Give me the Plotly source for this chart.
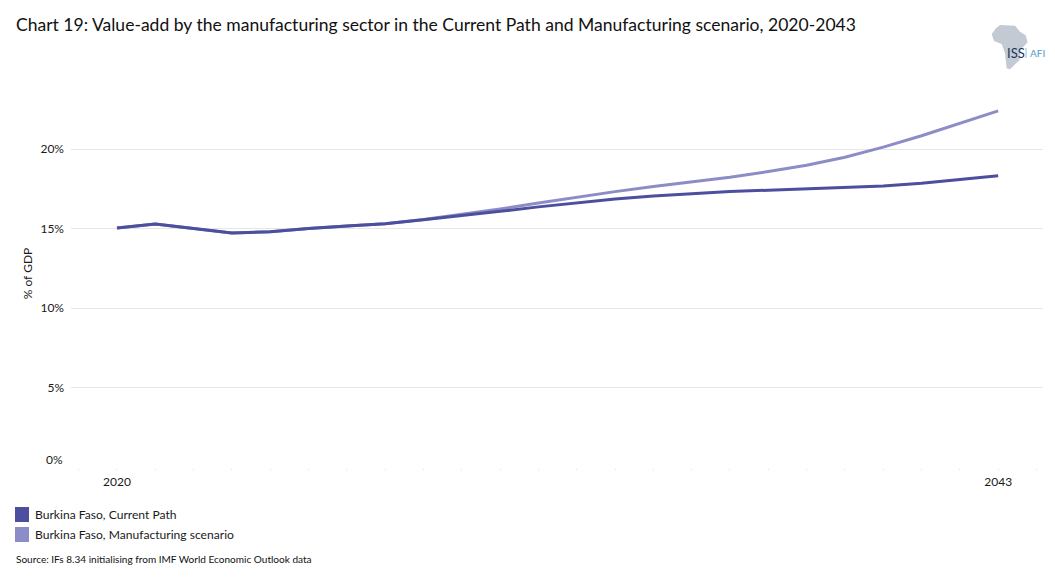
import plotly.graph_objects as go

years = list(range(2020, 2044))
current_path = [15.03, 15.28, 15.0, 14.72, 14.8, 15.0, 15.15, 15.3, 15.55, 15.8, 16.08, 16.36, 16.62, 16.86, 17.05,
                17.2, 17.32, 17.41, 17.49, 17.57, 17.67, 17.85, 18.07, 18.32]
manufacturing = [15.03, 15.28, 15.0, 14.72, 14.8, 15.0, 15.15, 15.3, 15.56, 15.88, 16.22, 16.6, 16.97, 17.32, 17.64,
                 17.93, 18.23, 18.58, 18.98, 19.48, 20.12, 20.83, 21.6, 22.4]
series_names = ["Burkina Faso, Current Path", "Burkina Faso, Manufacturing scenario"]
series_colors = ["#4C4E9E", "#8C8DC6"]
y_ticks = [5, 10, 15, 20]
y_labels = ["5%", "10%", "15%", "20%"]
zero_label = "0%"
x_ticks = [2020, 2043]
x_labels = ["2020", "2043"]
title = "Chart 19: Value-add by the manufacturing sector in the Current Path and Manufacturing scenario, 2020-2043"
source = "Source: IFs 8.34 initialising from IMF World Economic Outlook data"
FONT = "Lato"
W, H = 1055, 584
L, R, T, B = 71, 12, 80, 117

def px(x):
    return (x - L) / (W - L - R)

def py(y):
    return (H - B - y) / (H - T - B)

fig = go.Figure()
fig.add_trace(go.Scatter(x=years, y=manufacturing, mode="lines", name=series_names[1],
                         line=dict(color=series_colors[1], width=3)))
fig.add_trace(go.Scatter(x=years, y=current_path, mode="lines", name=series_names[0],
                         line=dict(color=series_colors[0], width=3)))

shapes = []
annotations = []
for text, col, y0 in zip(series_names, series_colors, [507, 527]):
    shapes.append(dict(type="rect", xref="paper", yref="paper", x0=px(15), x1=px(29), y0=py(y0), y1=py(y0 + 15),
                       fillcolor=col, line_width=0))
    annotations.append(dict(text=text, xref="paper", yref="paper", x=px(33), y=py(y0 + 7.5), xanchor="left",
                            yanchor="middle", showarrow=False, font=dict(size=12.1, color="#1a1a1a")))

annotations.append(dict(text=title, xref="paper", yref="paper", x=px(14), y=py(25), xanchor="left",
                        yanchor="middle", showarrow=False, font=dict(size=17.55, color="#111111")))
annotations.append(dict(text=source, xref="paper", yref="paper", x=px(14), y=py(559), xanchor="left",
                        yanchor="middle", showarrow=False, font=dict(size=10.05, color="#111111")))
annotations.append(dict(text=zero_label, xref="paper", yref="paper", x=px(65), y=py(459), xanchor="right",
                        yanchor="middle", showarrow=False, font=dict(size=12, color="#1a1a1a")))

# logo
africa = [(120, 45), (165, 47), (180, 65), (197, 76), (203, 97), (181, 120), (179, 150), (150, 178), (140, 175),
          (135, 130), (125, 102), (102, 93), (95, 72), (108, 55)]
pts = [(960 + a / 3, 10 + b / 3) for a, b in africa]
path = "M " + " L ".join(f"{px(a):.5f} {py(b):.5f}" for a, b in pts) + " Z"
shapes.append(dict(type="path", xref="paper", yref="paper", path=path, fillcolor="#C3CAD3", line_width=0))
annotations.append(dict(text="ISS", xref="paper", yref="paper", x=px(1004.5), y=py(53), xanchor="left",
                        yanchor="middle", showarrow=False, font=dict(size=13, color="#17365D")))
annotations.append(dict(text="AFI", xref="paper", yref="paper", x=px(1027.5), y=py(53), xanchor="left",
                        yanchor="middle", showarrow=False, font=dict(size=10, color="#4E9CC9")))
shapes.append(dict(type="line", xref="paper", yref="paper", x0=px(1026), x1=px(1026), y0=py(48), y1=py(58),
                   line=dict(color="#8FC0DC", width=1)))

fig.update_layout(
    width=W, height=H, autosize=False,
    margin=dict(l=L, r=R, t=T, b=B, pad=0),
    paper_bgcolor="white", plot_bgcolor="white",
    showlegend=False,
    font=dict(family=FONT, size=12, color="#1a1a1a"),
    shapes=shapes, annotations=annotations,
    xaxis=dict(range=[2018.8, 2044.17], tickmode="array", tickvals=x_ticks, ticktext=x_labels,
               showgrid=False, zeroline=False, showline=False, ticks="outside", ticklen=3,
               tickcolor="#F2F2F2", tickfont=dict(size=12), ticklabelstandoff=1,
               minor=dict(dtick=1, tick0=2020, ticks="outside", ticklen=3, tickcolor="#F2F2F2", showgrid=False)),
    yaxis=dict(range=[0, (H - B - T) / 15.9], tickmode="array", tickvals=[0] + y_ticks, ticktext=[""] + y_labels,
               showgrid=True, gridcolor="#E6E6E6", gridwidth=1, zeroline=False, showline=False,
               ticks="", tickfont=dict(size=12), ticklabelstandoff=6,
               title=dict(text="% of GDP", font=dict(size=12), standoff=5)),
)

fig.write_html("out.html", config={"displayModeBar": False}, post_script="document.body.style.margin='0';")
